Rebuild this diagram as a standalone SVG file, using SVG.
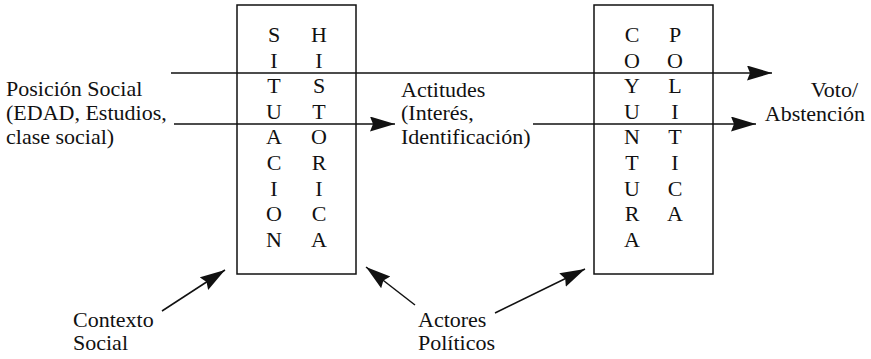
<svg xmlns="http://www.w3.org/2000/svg" width="871" height="359" viewBox="0 0 871 359">
<style>
  .t { font-family: 'Liberation Serif', 'DejaVu Serif', 'Times New Roman', serif; font-size: 22px; fill: #111; }
  .col { text-anchor: middle; }
  .box { fill: none; stroke: #111; stroke-width: 1.5; }
  .conn { stroke: #111; stroke-width: 1.5; fill: none; marker-end: url(#arr); }
</style>
<defs>
  <marker id="arr" markerUnits="userSpaceOnUse" markerWidth="26" markerHeight="16" refX="25" refY="7.5" orient="auto">
    <path d="M0,0 L25,7.5 L0,15 L3,7.5 z" fill="#111"/>
  </marker>
</defs>
<rect width="871" height="359" fill="#fff"/>

<g id="connectors">
  <line class="conn" x1="171" y1="73" x2="772" y2="73"/>
  <line class="conn" x1="174" y1="124" x2="395" y2="124"/>
  <line class="conn" x1="533" y1="124" x2="756" y2="124"/>
  <line class="conn" x1="162" y1="311" x2="225" y2="270"/>
  <line class="conn" x1="415" y1="305" x2="366" y2="267"/>
  <line class="conn" x1="495" y1="313" x2="585" y2="269"/>
</g>

<g class="t" font-family="Liberation Serif, DejaVu Serif, serif">
<g id="situacion-historica">
  <rect class="box" x="237" y="5" width="119" height="269"/>
  <g class="col">
    <text x="274" y="42">S</text><text x="274" y="67.6">I</text><text x="274" y="93.2">T</text>
    <text x="274" y="118.8">U</text><text x="274" y="144.4">A</text><text x="274" y="170">C</text>
    <text x="274" y="195.6">I</text><text x="274" y="221.2">O</text><text x="274" y="246.8">N</text>
    <text x="319" y="42">H</text><text x="319" y="67.6">I</text><text x="319" y="93.2">S</text>
    <text x="319" y="118.8">T</text><text x="319" y="144.4">O</text><text x="319" y="170">R</text>
    <text x="319" y="195.6">I</text><text x="319" y="221.2">C</text><text x="319" y="246.8">A</text>
  </g>
</g>

<g id="coyuntura-politica">
  <rect class="box" x="594" y="5" width="119" height="269"/>
  <g class="col">
    <text x="632" y="42">C</text><text x="632" y="67.6">O</text><text x="632" y="93.2">Y</text>
    <text x="632" y="118.8">U</text><text x="632" y="144.4">N</text><text x="632" y="170">T</text>
    <text x="632" y="195.6">U</text><text x="632" y="221.2">R</text><text x="632" y="246.8">A</text>
    <text x="675" y="42">P</text><text x="675" y="67.6">O</text><text x="675" y="93.2">L</text>
    <text x="675" y="118.8">I</text><text x="675" y="144.4">T</text><text x="675" y="170">I</text>
    <text x="675" y="195.6">C</text><text x="675" y="221.2">A</text>
  </g>
</g>

<g id="posicion-social">
  <text x="6" y="96">Posición Social</text>
  <text x="6" y="120">(EDAD, Estudios,</text>
  <text x="6" y="144">clase social)</text>
</g>

<g id="actitudes">
  <text x="401" y="97">Actitudes</text>
  <text x="401" y="120">(Interés,</text>
  <text x="401" y="144">Identificación)</text>
</g>

<g id="voto">
  <text x="858" y="97" text-anchor="end">Voto/</text>
  <text x="865" y="121" text-anchor="end">Abstención</text>
</g>

<g id="contexto-social">
  <text x="73" y="327">Contexto</text>
  <text x="73" y="350">Social</text>
</g>

<g id="actores-politicos">
  <text x="418" y="327">Actores</text>
  <text x="418" y="350">Políticos</text>
</g>
</g>
</svg>
